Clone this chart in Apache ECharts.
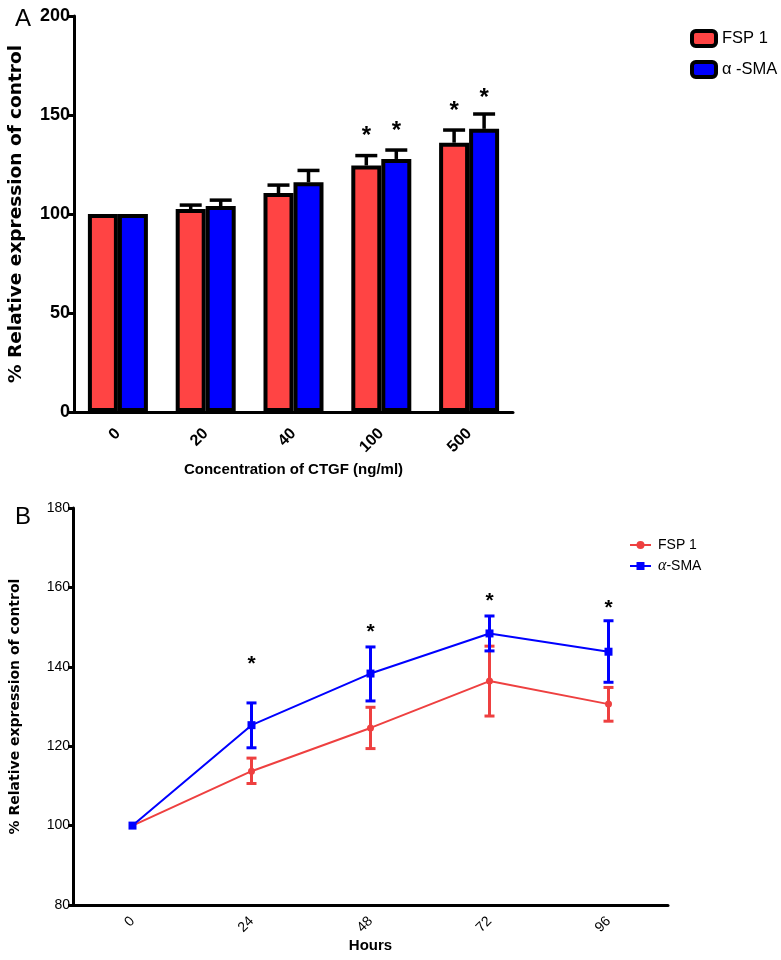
<!DOCTYPE html>
<html>
<head>
<meta charset="utf-8">
<script src="https://cdn.jsdelivr.net/npm/echarts@6/dist/echarts.min.js"></script>
<style>
  html, body { margin: 0; padding: 0; background: #fff; }
  #chart { width: 781px; height: 960px; }
</style>
</head>
<body>
<div id="chart"></div>
<script>
// panel A: bars by CTGF dose
var doses = ['0', '20', '40', '100', '500']
var fspBar = [100, 102.5, 110.6, 124.5, 136]
var fspBarErr = [0, 2, 4, 5, 6.4]
var smaBar = [100, 104, 116, 127.8, 143]
var smaBarErr = [0, 3, 6, 4.5, 7.5]
var fspBarStar = [null, null, null, 141.9, 154.5]
var smaBarStar = [null, null, null, 144.4, 161]
var barTicks = [0, 50, 100, 150, 200]

// panel B: time course
var hours = ['0', '24', '48', '72', '96']
var fspTime = [100, 113.7, 124.6, 136.4, 130.6]
var fspLow = [100, 110.6, 119.4, 127.6, 126.3]
var fspHigh = [100, 117, 129.8, 145.2, 134.8]
var smaTime = [100, 125.3, 138.3, 148.4, 143.8]
var smaLow = [100, 119.6, 131.4, 144, 136.1]
var smaHigh = [100, 130.9, 145, 152.8, 151.6]
var timeStar = [null, 141.7, 149.8, 157.8, 156]

var RED = '#FF4444'
var BLUE = '#0000FF'
var LRED = '#EE4040'
var BAR_W = 30
var SANS = 'Liberation Sans'

var chart = echarts.init(document.getElementById('chart'))

function barErrorSeries(values, errs, offset) {
  return {
    type: 'custom',
    xAxisIndex: 0,
    yAxisIndex: 0,
    z: 1,
    silent: true,
    data: values.map(function (v, i) { return [i, v, v + errs[i]] }),
    renderItem: function (params, api) {
      var lo = api.coord([api.value(0), api.value(1)])
      var hi = api.coord([api.value(0), api.value(2)])
      if (api.value(2) <= api.value(1)) return null
      var x = lo[0] + offset
      var style = { stroke: '#000', lineWidth: 3.5 }
      return {
        type: 'group',
        children: [
          { type: 'line', shape: { x1: x, y1: lo[1], x2: x, y2: hi[1] }, style: style },
          { type: 'line', shape: { x1: x - 11, y1: hi[1], x2: x + 11, y2: hi[1] }, style: style }
        ]
      }
    }
  }
}

function starSeries(pos, offset, xi, yi, size) {
  return {
    type: 'custom',
    xAxisIndex: xi,
    yAxisIndex: yi,
    z: 5,
    silent: true,
    data: pos.map(function (v, i) { return [i, v] }).filter(function (d) { return d[1] != null }),
    renderItem: function (params, api) {
      var p = api.coord([api.value(0), api.value(1)])
      return {
        type: 'text',
        style: {
          x: p[0] + offset,
          y: p[1] + size * 0.22,
          text: '*',
          fill: '#000',
          font: 'bold ' + size + 'px "Liberation Sans", Arial, sans-serif',
          align: 'center',
          verticalAlign: 'middle'
        }
      }
    }
  }
}

function timeErrorSeries(low, high, color) {
  return {
    type: 'custom',
    xAxisIndex: 1,
    yAxisIndex: 1,
    z: 3,
    silent: true,
    data: low.map(function (v, i) { return [i, v, high[i]] }),
    renderItem: function (params, api) {
      if (api.value(2) <= api.value(1)) return null
      var lo = api.coord([api.value(0), api.value(1)])
      var hi = api.coord([api.value(0), api.value(2)])
      var x = lo[0]
      var style = { stroke: color, lineWidth: 3 }
      return {
        type: 'group',
        children: [
          { type: 'line', shape: { x1: x, y1: lo[1], x2: x, y2: hi[1] }, style: style },
          { type: 'line', shape: { x1: x - 5, y1: lo[1], x2: x + 5, y2: lo[1] }, style: style },
          { type: 'line', shape: { x1: x - 5, y1: hi[1], x2: x + 5, y2: hi[1] }, style: style }
        ]
      }
    }
  }
}

var option = {
  backgroundColor: '#fff',
  animation: false,
  title: [
    { text: 'A', left: 10, top: 2, textStyle: { fontSize: 24, fontWeight: 'normal', color: '#000', fontFamily: SANS } },
    { text: 'B', left: 10, top: 500, textStyle: { fontSize: 24, fontWeight: 'normal', color: '#000', fontFamily: SANS } }
  ],
  legend: [
    {
      data: ['FSP 1', 'α -SMA'],
      orient: 'vertical',
      left: 685,
      top: 24,
      itemWidth: 24,
      itemHeight: 15,
      itemGap: 12,
      icon: 'roundRect',
      itemStyle: { borderColor: '#000', borderWidth: 4 },
      textStyle: { fontSize: 16.5, color: '#000', fontFamily: SANS, padding: [0, 0, 0, 1] }
    },
    {
      data: ['FSP 1 ', 'α-SMA'],
      orient: 'vertical',
      left: 624,
      top: 533,
      itemWidth: 21,
      itemHeight: 10,
      itemGap: 6,
      textStyle: {
        fontSize: 14,
        color: '#000',
        fontFamily: SANS,
        padding: [0, 0, 0, 2],
        rich: { g: { fontFamily: 'Liberation Serif', fontStyle: 'italic', fontSize: 16, color: '#000' } }
      },
      formatter: function (name) {
        return name === 'α-SMA' ? '{g|α}-SMA' : name
      }
    }
  ],
  grid: [
    { left: 74, top: 16, width: 439, height: 396, outerBoundsMode: 'none' },
    { left: 73, top: 508, width: 595, height: 397, outerBoundsMode: 'none' }
  ],
  xAxis: [
    {
      type: 'category',
      gridIndex: 0,
      data: doses,
      name: 'Concentration of CTGF (ng/ml)',
      nameLocation: 'middle',
      nameGap: 50,
      nameTextStyle: { fontSize: 15, fontWeight: 'bold', color: '#000', fontFamily: SANS },
      axisLine: { lineStyle: { color: '#000', width: 3 } },
      axisTick: { alignWithLabel: true, length: 6, lineStyle: { color: '#000', width: 3 } },
      axisLabel: { rotate: 45, margin: 19, fontSize: 16, fontWeight: 'bold', color: '#000', fontFamily: SANS }
    },
    {
      type: 'category',
      gridIndex: 1,
      data: hours,
      name: 'Hours',
      nameLocation: 'middle',
      nameGap: 32,
      nameTextStyle: { fontSize: 15, fontWeight: 'bold', color: '#000', fontFamily: SANS },
      axisLine: { lineStyle: { color: '#000', width: 3 } },
      axisTick: { alignWithLabel: true, length: 5, lineStyle: { color: '#000', width: 3 } },
      axisLabel: { rotate: 45, margin: 14, fontSize: 14, color: '#000', fontFamily: SANS }
    }
  ],
  yAxis: [
    {
      type: 'value',
      gridIndex: 0,
      min: barTicks[0],
      max: barTicks[barTicks.length - 1],
      interval: 50,
      name: '% Relative expression of control',
      nameLocation: 'middle',
      nameRotate: 90,
      nameGap: 48,
      nameTextStyle: { fontSize: 18.5, fontWeight: 'bold', color: '#000', fontFamily: 'DejaVu Sans' },
      axisLine: { show: true, lineStyle: { color: '#000', width: 3 } },
      axisTick: { show: true, length: 6, lineStyle: { color: '#000', width: 3 } },
      axisLabel: { margin: 4, fontSize: 18, fontWeight: 'bold', color: '#000', fontFamily: SANS },
      splitLine: { show: false }
    },
    {
      type: 'value',
      gridIndex: 1,
      min: 80,
      max: 180,
      interval: 20,
      name: '% Relative expression of control',
      nameLocation: 'middle',
      nameRotate: 90,
      nameGap: 51,
      nameTextStyle: { fontSize: 14, fontWeight: 'bold', color: '#000', fontFamily: 'DejaVu Sans' },
      axisLine: { show: true, lineStyle: { color: '#000', width: 3 } },
      axisTick: { show: true, length: 5, lineStyle: { color: '#000', width: 3 } },
      axisLabel: { margin: 3, fontSize: 14, color: '#000', fontFamily: SANS },
      splitLine: { show: false }
    }
  ],
  series: [
    {
      name: 'FSP 1',
      type: 'bar',
      xAxisIndex: 0,
      yAxisIndex: 0,
      data: fspBar,
      barWidth: BAR_W,
      barGap: '0%',
      z: 2,
      itemStyle: { color: RED, borderColor: '#000', borderWidth: 4 }
    },
    {
      name: 'α -SMA',
      type: 'bar',
      xAxisIndex: 0,
      yAxisIndex: 0,
      data: smaBar,
      barWidth: BAR_W,
      barGap: '0%',
      z: 2,
      itemStyle: { color: BLUE, borderColor: '#000', borderWidth: 4 }
    },
    barErrorSeries(fspBar, fspBarErr, -BAR_W / 2),
    barErrorSeries(smaBar, smaBarErr, BAR_W / 2),
    starSeries(fspBarStar, -BAR_W / 2, 0, 0, 24),
    starSeries(smaBarStar, BAR_W / 2, 0, 0, 24),
    {
      name: 'FSP 1 ',
      type: 'line',
      xAxisIndex: 1,
      yAxisIndex: 1,
      data: fspTime,
      symbol: 'circle',
      symbolSize: 7,
      z: 4,
      lineStyle: { color: LRED, width: 2 },
      itemStyle: { color: LRED }
    },
    timeErrorSeries(fspLow, fspHigh, LRED),
    {
      name: 'α-SMA',
      type: 'line',
      xAxisIndex: 1,
      yAxisIndex: 1,
      data: smaTime,
      symbol: 'rect',
      symbolSize: 8,
      z: 6,
      lineStyle: { color: BLUE, width: 2 },
      itemStyle: { color: BLUE }
    },
    timeErrorSeries(smaLow, smaHigh, BLUE),
    starSeries(timeStar, 0, 1, 1, 21)
  ]
}

chart.setOption(option)
</script>
</body>
</html>
